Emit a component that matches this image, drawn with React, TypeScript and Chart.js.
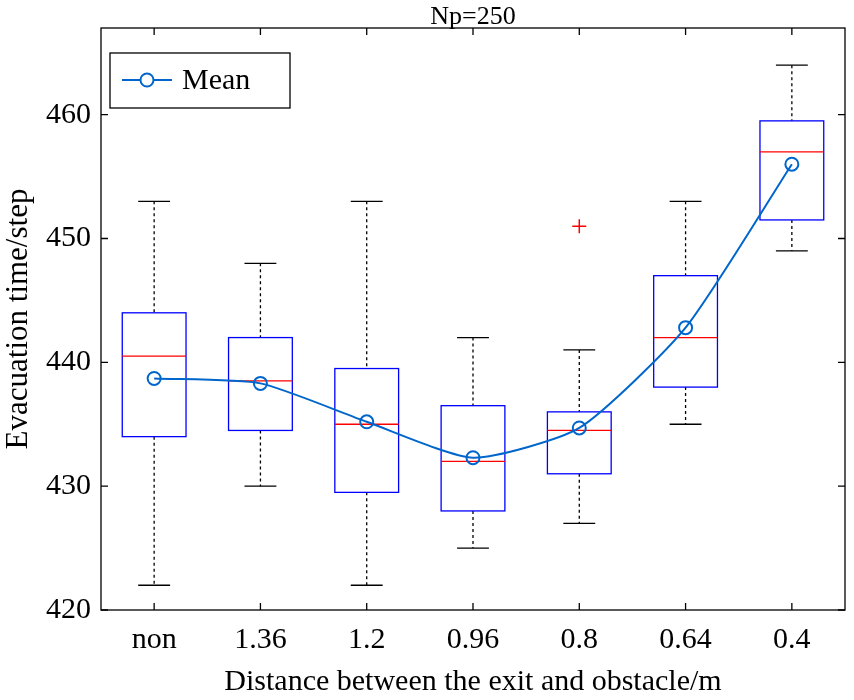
import React, { useEffect, useRef } from "react";
import { Chart, registerables } from "chart.js";
Chart.register(...registerables);

const categories = ["non", "1.36", "1.2", "0.96", "0.8", "0.64", "0.4"];
const whiskerLow = [422, 430, 422, 425, 427, 435, 449];
const q1 = [434, 434.5, 429.5, 428, 431, 438, 451.5];
const medians = [440.5, 438.5, 435, 432, 434.5, 442, 457];
const q3 = [444, 442, 439.5, 436.5, 436, 447, 459.5];
const whiskerHigh = [453, 448, 453, 442, 441, 453, 464];
const means = [438.7, 438.3, 435.2, 432.3, 434.7, 442.8, 456];
const outliers = [{ x: "0.8", y: 451 }];
const yTicks = [420, 430, 440, 450, 460];

const FONT = "'Liberation Serif', 'Times New Roman', serif";

const boxPlugin = {
  id: "boxes",
  beforeDatasetsDraw(chart: any) {
    const { ctx, scales } = chart;
    const xs = scales.x, ys = scales.y;
    const half = (xs.getPixelForValue(1) - xs.getPixelForValue(0)) * 0.3;
    ctx.save();
    categories.forEach((_, i) => {
      const cx = xs.getPixelForValue(i);
      const pLo = ys.getPixelForValue(whiskerLow[i]);
      const pHi = ys.getPixelForValue(whiskerHigh[i]);
      const p1 = ys.getPixelForValue(q1[i]);
      const p3 = ys.getPixelForValue(q3[i]);
      const pm = ys.getPixelForValue(medians[i]);
      ctx.strokeStyle = "#000";
      ctx.lineWidth = 1.3;
      ctx.setLineDash([3, 3]);
      ctx.beginPath();
      ctx.moveTo(cx, pHi); ctx.lineTo(cx, p3);
      ctx.moveTo(cx, p1); ctx.lineTo(cx, pLo);
      ctx.stroke();
      ctx.setLineDash([]);
      ctx.beginPath();
      ctx.moveTo(cx - half / 2, pHi); ctx.lineTo(cx + half / 2, pHi);
      ctx.moveTo(cx - half / 2, pLo); ctx.lineTo(cx + half / 2, pLo);
      ctx.stroke();
      ctx.strokeStyle = "#0000ff";
      ctx.strokeRect(cx - half, p3, 2 * half, p1 - p3);
      ctx.strokeStyle = "#ff0000";
      ctx.beginPath();
      ctx.moveTo(cx - half, pm); ctx.lineTo(cx + half, pm);
      ctx.stroke();
    });
    ctx.restore();
  },
  afterDraw(chart: any) {
    const { ctx, chartArea, scales } = chart;
    const { left, right, top, bottom } = chartArea;
    ctx.save();
    ctx.strokeStyle = "#000";
    ctx.lineWidth = 1.3;
    ctx.strokeRect(left, top, right - left, bottom - top);
    ctx.beginPath();
    yTicks.forEach((v) => {
      const y = scales.y.getPixelForValue(v);
      ctx.moveTo(left, y); ctx.lineTo(left + 7, y);
      ctx.moveTo(right, y); ctx.lineTo(right - 7, y);
    });
    categories.forEach((_, i) => {
      const x = scales.x.getPixelForValue(i);
      ctx.moveTo(x, bottom); ctx.lineTo(x, bottom - 7);
      ctx.moveTo(x, top); ctx.lineTo(x, top + 7);
    });
    ctx.stroke();
    ctx.fillStyle = "#000";
    ctx.font = `26px ${FONT}`;
    ctx.textAlign = "center";
    ctx.textBaseline = "bottom";
    ctx.fillText("Np=250", (left + right) / 2, top + 2);
    const lx = left + 9, ly = top + 25;
    ctx.fillStyle = "#fff";
    ctx.fillRect(lx, ly, 180, 55);
    ctx.strokeRect(lx, ly, 180, 55);
    ctx.strokeStyle = "#0066cc";
    ctx.lineWidth = 2;
    ctx.beginPath();
    ctx.moveTo(lx + 12, ly + 27); ctx.lineTo(lx + 62, ly + 27);
    ctx.stroke();
    ctx.beginPath();
    ctx.arc(lx + 37, ly + 27, 6.5, 0, Math.PI * 2);
    ctx.fillStyle = "#fff"; ctx.fill(); ctx.stroke();
    ctx.fillStyle = "#000";
    ctx.font = `30px ${FONT}`;
    ctx.textAlign = "left";
    ctx.textBaseline = "middle";
    ctx.fillText("Mean", lx + 72, ly + 28);
    ctx.restore();
  },
};

export default function App() {
  const ref = useRef<HTMLCanvasElement>(null);
  useEffect(() => {
    const chart = new Chart(ref.current!, {
      type: "line",
      data: {
        labels: categories,
        datasets: [
          {
            label: "Mean",
            data: means,
            borderColor: "#0066cc",
            borderWidth: 2,
            pointStyle: "circle",
            pointRadius: 6.5,
            pointBorderWidth: 2,
            pointBackgroundColor: "rgba(0,0,0,0)",
            pointBorderColor: "#0066cc",
            tension: 0.2,
          },
          {
            type: "scatter",
            label: "Outlier",
            data: outliers as any,
            pointStyle: "cross",
            pointRadius: 7,
            borderColor: "#ff0000",
            borderWidth: 1.5,
            showLine: false,
          } as any,
        ],
      },
      options: {
        animation: false,
        responsive: false,
        layout: { padding: { top: 20, right: 9, left: 0, bottom: 0 } },
        plugins: { legend: { display: false }, title: { display: false }, tooltip: { enabled: false } },
        scales: {
          x: {
            type: "category",
            offset: true,
            grid: { display: false, drawTicks: false },
            border: { display: false },
            ticks: { color: "#000", font: { family: FONT, size: 30 }, padding: 12 },
            title: { display: true, text: "Distance between the exit and obstacle/m", color: "#000", font: { family: FONT, size: 30 }, padding: 0 },
            afterFit: (s: any) => { s.height = 90; },
          },
          y: {
            min: 420,
            max: 467,
            afterBuildTicks: (s: any) => { s.ticks = yTicks.map((v) => ({ value: v })); },
            grid: { display: false, drawTicks: false },
            border: { display: false },
            ticks: { color: "#000", font: { family: FONT, size: 30 }, padding: 10 },
            title: { display: true, text: "Evacuation time/step", color: "#000", font: { family: FONT, size: 31 }, padding: 0 },
            afterFit: (s: any) => { s.width = 101; },
          },
        },
      },
      plugins: [boxPlugin],
    } as any);
    return () => chart.destroy();
  }, []);
  return (
    <div style={{ position: "absolute", left: 0, top: 0, width: 854, height: 700, background: "#fff" }}>
      <canvas ref={ref} width={854} height={700} />
    </div>
  );
}
